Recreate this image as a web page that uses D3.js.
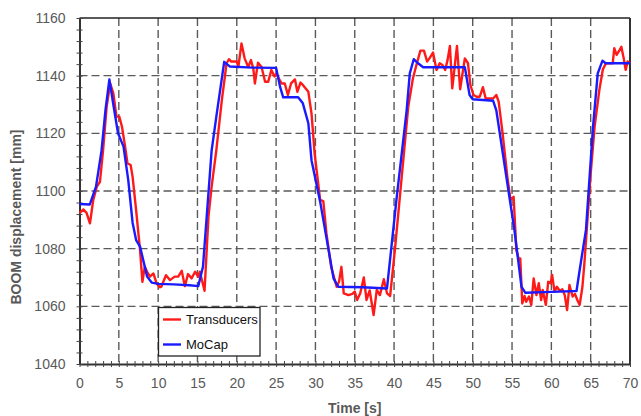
<!DOCTYPE html>
<html><head><meta charset="utf-8">
<script src="https://cdn.jsdelivr.net/npm/d3@7"></script>
<style>body{margin:0;background:#fff}svg{display:block}</style>
</head><body>
<svg id="chart" width="641" height="416"></svg>
<script>
const xTicks = [0,5,10,15,20,25,30,35,40,45,50,55,60,65,70];
const yTicks = [1040,1060,1080,1100,1120,1140,1160];
const seriesNames = ["Transducers","MoCap"];
const seriesColors = ["#ff1a1a","#1a1aff"];

const transT = [0,0.5,0.9,1.33,1.75,2.2,2.6,3.0,3.45,3.9,4.3,4.7,5.06,5.4,5.8,6.1,6.5,6.75,7.2,7.7,8.0,8.3,8.6,8.95,9.4,9.8,10.2,10.4,11,11.5,12.1,12.55,13,13.4,13.8,14.25,14.7,15.1,15.3,15.9,16.4,16.8,17.4,18.1,18.7,19.0,19.3,20,20.2,20.6,21,21.45,21.8,22.1,22.3,22.7,23.15,23.6,24,24.4,24.8,25.05,25.4,25.7,26.1,26.5,26.9,27.4,27.7,28.1,28.4,29.1,29.5,29.9,30.6,31.0,31.4,32.0,32.7,33.0,33.3,33.6,34.2,34.7,35.0,35.3,35.7,36.15,36.5,36.9,37.4,37.8,38.2,38.7,39.1,39.5,40.1,40.7,41.8,42.4,42.9,43.35,43.8,44.2,44.5,44.95,45.4,45.8,46.15,46.5,46.8,47.1,47.4,47.7,48.0,48.4,49.0,49.4,49.7,50.1,50.5,50.9,51.3,51.65,52.2,52.6,53.0,53.3,53.8,54.4,54.8,55.2,55.55,55.9,56.05,56.3,56.6,56.8,57.15,57.45,57.75,58.1,58.4,58.7,58.9,59.3,59.6,59.9,60.1,60.4,60.7,61.05,61.4,61.7,62.0,62.3,62.7,63.0,63.3,63.6,63.95,64.2,64.5,65.0,65.5,66.1,66.55,66.95,67.4,67.8,68.0,68.3,68.55,68.9,69.2,69.45,69.7,70];
const transV = [1092.3,1093.6,1092.4,1088.8,1096.9,1101.5,1103.2,1114.2,1129.2,1137.3,1133.9,1125.8,1125.8,1122.3,1115.4,1109.6,1109,1105,1093.4,1079.5,1068.5,1073.7,1072,1070.3,1071.4,1068,1066.6,1066.8,1070.8,1069.1,1070.3,1070.3,1072.3,1067,1071.2,1069.7,1072,1070.3,1072,1065.4,1091.1,1101.5,1114.2,1131.5,1144.3,1145.7,1144.9,1144.9,1143,1151.2,1146,1143,1145.4,1142.5,1137.3,1144.5,1143,1137.9,1137.9,1142,1139.7,1140.8,1138.7,1137.3,1137.3,1133.3,1137.3,1138.7,1134.4,1137.6,1136.8,1134.4,1126.9,1113,1096.9,1096.5,1085.3,1073.7,1066.8,1068.5,1073.7,1064.5,1063.9,1064.3,1065.1,1062.2,1064.5,1070,1062.2,1065.5,1057,1065.7,1063.9,1069.4,1064.5,1063.6,1079.5,1096.9,1129.2,1139.1,1144.3,1148.7,1148.7,1144.9,1146,1148,1142,1144.3,1143.7,1142,1145.4,1150.3,1135.6,1143,1150.3,1135.3,1146,1144.3,1136.8,1133.3,1132.7,1132.7,1136,1132.1,1132.1,1132.1,1133.3,1131,1120,1105,1097,1098,1079.5,1076,1076.6,1061,1063.6,1061.6,1063.4,1060.5,1069.7,1063.9,1068,1062.2,1065.7,1060.5,1068.5,1068,1070.9,1065.1,1066.8,1065.4,1065.9,1063.9,1058.7,1067.4,1063.4,1064.3,1062.2,1060.5,1066.8,1074.9,1086.5,1106,1122.3,1135,1142.2,1144.3,1144.3,1144.3,1149.5,1147.2,1148.3,1150,1146,1142,1144.9,1144.3];

const mocapT = [0,1.3,2.1,2.8,3.3,3.8,4.3,4.9,5.6,6.2,6.75,7.2,7.7,8.6,9.2,10,12,14,15.1,15.7,16.8,17.4,18.4,19.1,22,25,25.5,25.9,27.8,28.4,29.1,29.5,30.6,32.3,32.9,36,39.1,40.3,41.6,42,42.5,43.05,43.7,49,49.6,50,52.6,53,55.3,56.2,56.7,60,63.2,63.6,64.4,65.3,65.9,66.5,66.9,70];
const mocapV = [1095.5,1095.3,1101.5,1114,1128,1138.7,1130,1120,1115.4,1103.8,1089,1083,1080.7,1070.3,1068.2,1067.8,1067.6,1067.3,1067,1073.7,1114,1125.8,1144.8,1143.2,1142.8,1142.7,1136.2,1132.5,1132.5,1130.4,1123.5,1110.7,1096.3,1069.7,1066.8,1066.6,1066.2,1096.9,1128,1140.8,1145.7,1144.3,1142.9,1142.9,1133.3,1131.8,1131.3,1128,1086.5,1066.8,1064.7,1065,1065.3,1072.6,1086.5,1122.3,1140.8,1145.2,1144.3,1144.3];

const svg = d3.select("#chart");
const L = 79.5, R = 630, T = 18, B = 364;
const x = d3.scaleLinear().domain([0,70]).range([L,R]);
const y = d3.scaleLinear().domain([1040,1160]).range([B,T]);
const font = "'Liberation Sans', Arial, sans-serif";

// grid
const grid = svg.append("g");
grid.selectAll("line.v").data(xTicks.filter(d=>d>0&&d<70)).join("line")
  .attr("x1",d=>x(d)).attr("x2",d=>x(d)).attr("y1",T).attr("y2",B)
  .attr("stroke","#5a5a5a").attr("stroke-width",1.4).attr("stroke-dasharray","8,4");
grid.selectAll("line.h").data(yTicks.filter(d=>d>1040&&d<1160)).join("line")
  .attr("y1",d=>y(d)).attr("y2",d=>y(d)).attr("x1",L).attr("x2",R)
  .attr("stroke","#5a5a5a").attr("stroke-width",1.4).attr("stroke-dasharray","8,4");

// frame top/right
svg.append("line").attr("x1",L).attr("x2",R).attr("y1",T).attr("y2",T).attr("stroke","#222").attr("stroke-width",1.5);
svg.append("line").attr("x1",R).attr("x2",R).attr("y1",T).attr("y2",B).attr("stroke","#333").attr("stroke-width",2);

// axes with minor ticks crossing
const xAxis = d3.axisBottom(x).tickValues(d3.range(0,71,1)).tickSize(4).tickSizeOuter(0).tickFormat("");
const gx = svg.append("g").attr("transform",`translate(0,${B})`).call(xAxis);
gx.selectAll(".tick line").attr("y1",-3).attr("y2",3).attr("stroke","#444").attr("stroke-width",1);
gx.select(".domain").attr("stroke","#333").attr("stroke-width",2);
const gx2 = svg.append("g").attr("transform",`translate(0,${B})`)
  .call(d3.axisBottom(x).tickValues(xTicks).tickSize(0).tickPadding(14).tickFormat(d3.format("d")));
gx2.select(".domain").remove();
gx2.selectAll("text").attr("font-family",font).attr("font-size",14).attr("fill","#595959");

const yAxis = d3.axisLeft(y).tickValues(d3.range(1040,1161,4)).tickSize(4).tickSizeOuter(0).tickFormat("");
const gy = svg.append("g").attr("transform",`translate(${L},0)`).call(yAxis);
gy.selectAll(".tick line").attr("x1",-3).attr("x2",3).attr("stroke","#444").attr("stroke-width",1);
gy.select(".domain").attr("stroke","#333").attr("stroke-width",2);
const gy2 = svg.append("g").attr("transform",`translate(${L},0)`)
  .call(d3.axisLeft(y).tickValues(yTicks).tickSize(0).tickPadding(14).tickFormat(d3.format("d")));
gy2.select(".domain").remove();
gy2.selectAll("text").attr("font-family",font).attr("font-size",14).attr("fill","#595959");

// titles
svg.append("text").attr("x",(L+R)/2).attr("y",413).attr("text-anchor","middle")
  .attr("font-family",font).attr("font-size",14).attr("font-weight","bold").attr("fill","#595959").text("Time [s]");
svg.append("text").attr("transform","translate(21,217) rotate(-90)").attr("text-anchor","middle")
  .attr("font-family",font).attr("font-size",14).attr("font-weight","bold").attr("fill","#595959").text("BOOM displacement [mm]");

// lines
const line = d3.line().x(d=>x(d[0])).y(d=>y(d[1]));
const series = [d3.zip(transT,transV), d3.zip(mocapT,mocapV)];
svg.append("g").selectAll("path").data(series).join("path")
  .attr("d",line).attr("fill","none").attr("stroke",(d,i)=>seriesColors[i])
  .attr("stroke-width",2.4).attr("stroke-linejoin","round");

// legend
const lg = svg.append("g");
lg.append("rect").attr("x",158.5).attr("y",307.5).attr("width",101.5).attr("height",48.5)
  .attr("fill","#fff").attr("stroke","#222").attr("stroke-width",1.3);
seriesNames.forEach((n,i)=>{
  const yy = 319.5 + i*25;
  lg.append("line").attr("x1",163).attr("x2",181).attr("y1",yy).attr("y2",yy)
    .attr("stroke",seriesColors[i]).attr("stroke-width",2.4);
  lg.append("text").attr("x",186).attr("y",yy+4.5).attr("font-family",font).attr("font-size",13)
    .attr("fill","#111").text(n);
});
</script>
</body></html>
